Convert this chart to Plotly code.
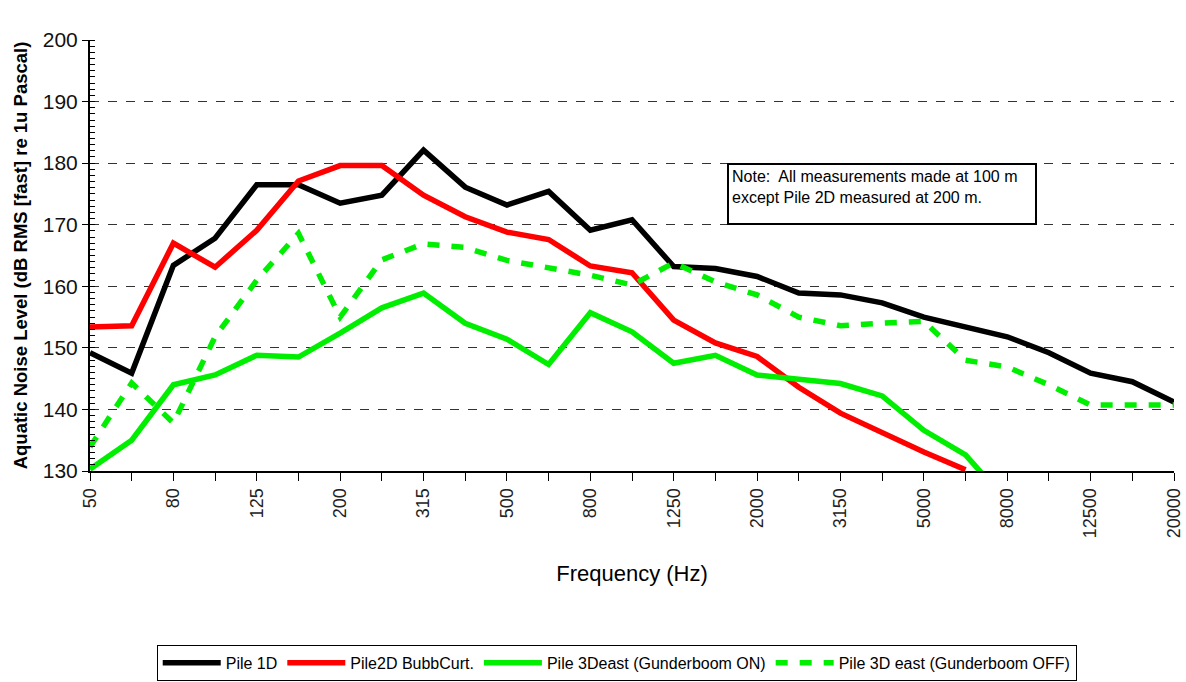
import plotly.graph_objects as go

# One-third octave band centre frequencies (Hz)
freqs = ["50", "63", "80", "100", "125", "160", "200", "250", "315", "400",
         "500", "630", "800", "1000", "1250", "1600", "2000", "2500", "3150",
         "4000", "5000", "6300", "8000", "10000", "12500", "16000", "20000"]

# Band levels, dB RMS [fast] re 1 uPa
pile_1d = [149.2, 145.9, 163.4, 167.8, 176.5, 176.5, 173.5, 174.8, 182.1, 176.1,
           173.2, 175.4, 169.1, 170.8, 163.2, 162.9, 161.6, 158.9, 158.6, 157.3,
           155.0, 153.4, 151.8, 149.2, 145.9, 144.5, 141.2]
pile_2d = [153.4, 153.6, 167.0, 163.1, 169.1, 177.1, 179.6, 179.6, 174.8, 171.3,
           168.8, 167.6, 163.3, 162.2, 154.5, 150.8, 148.6, 143.6, 139.4, 136.2,
           133.1, 130.2]
pile_3d_on = [130.3, 135.0, 144.0, 145.6, 148.8, 148.5, 152.4, 156.5, 158.9, 154.0,
              151.4, 147.3, 155.7, 152.6, 147.5, 148.8, 145.6, 144.9, 144.2, 142.2,
              136.6, 132.6, 125.0]
pile_3d_off = [133.9, 144.3, 137.8, 151.8, 161.0, 168.6, 155.0, 164.3, 166.9, 166.3,
               164.2, 163.0, 161.8, 160.2, 163.8, 160.7, 158.6, 155.0, 153.6, 154.0,
               154.3, 148.0, 146.9, 144.0, 140.7, 140.7, 140.7]

# Only every other band is labelled on the axis
tick_text = [f if i % 2 == 0 else "" for i, f in enumerate(freqs)]

fig = go.Figure()
fig.add_trace(go.Scatter(x=freqs, y=pile_1d, mode="lines", name="Pile 1D",
                         line=dict(color="#000000", width=5.5)))
fig.add_trace(go.Scatter(x=freqs[:len(pile_2d)], y=pile_2d, mode="lines",
                         name="Pile2D BubbCurt.",
                         line=dict(color="#ff0000", width=5.5)))
fig.add_trace(go.Scatter(x=freqs[:len(pile_3d_on)], y=pile_3d_on, mode="lines",
                         name="Pile 3Deast (Gunderboom ON)",
                         line=dict(color="#00ee00", width=5.5)))
fig.add_trace(go.Scatter(x=freqs, y=pile_3d_off, mode="lines",
                         name="Pile 3D east (Gunderboom OFF)",
                         line=dict(color="#00ee00", width=5.5, dash="12px,12px")))

fig.add_annotation(
    xref="paper", yref="paper", x=0.588, y=0.715, xanchor="left", yanchor="top",
    text="Note:  All measurements made at 100 m<br>except Pile 2D measured at 200 m.",
    align="left", showarrow=False,
    font=dict(family="Liberation Sans, Arial", size=16, color="#000000"),
    bordercolor="#000000", borderwidth=2, borderpad=3, bgcolor="#ffffff",
    width=300, height=52, valign="top",
)

fig.update_layout(
    width=1186, height=682,
    margin=dict(l=90, r=12, t=40, b=211),
    paper_bgcolor="#ffffff", plot_bgcolor="#ffffff",
    font=dict(family="Liberation Sans, Arial", color="#000000"),
    showlegend=True,
    legend=dict(
        orientation="h", xref="container", yref="container",
        x=0.52, xanchor="center", y=0.028, yanchor="middle",
        bordercolor="#000000", borderwidth=1, bgcolor="#ffffff",
        font=dict(size=16, color="#000000"), itemwidth=58,
        tracegroupgap=0,
    ),
    xaxis=dict(
        type="category", categoryorder="array", categoryarray=freqs,
        range=[0, len(freqs) - 1], automargin=False,
        tickmode="array", tickvals=freqs, ticktext=tick_text,
        tickangle=-90, tickfont=dict(size=18, color="#222222"),
        ticks="outside", ticklen=8, tickcolor="#000000", tickwidth=1,
        showline=True, linecolor="#000000", linewidth=2,
        showgrid=False, zeroline=False,
        title=dict(text="Frequency (Hz)", font=dict(size=22), standoff=28),
    ),
    yaxis=dict(
        range=[130, 200], dtick=10, tick0=130, automargin=False,
        tickfont=dict(size=21, color="#111111"),
        ticks="outside", ticklen=6, tickcolor="#000000", tickwidth=1,
        showline=True, linecolor="#000000", linewidth=2,
        showgrid=True, gridcolor="#333333", gridwidth=1, griddash="dash",
        zeroline=False,
        minor=dict(dtick=1, ticks="inside", ticklen=5, tickcolor="#000000",
                   showgrid=False),
        title=dict(text="<b>Aquatic Noise Level (dB RMS [fast] re 1u Pascal)</b>",
                   font=dict(size=18.5), standoff=10),
    ),
)

fig.write_html("out.html")
